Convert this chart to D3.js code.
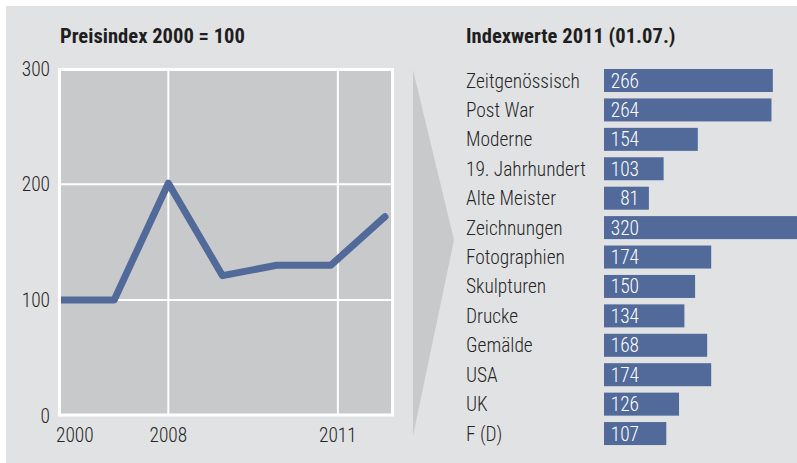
<!DOCTYPE html>
<html><head><meta charset="utf-8">
<script src="https://cdn.jsdelivr.net/npm/d3@7"></script>
<style>
html,body{margin:0;padding:0;background:#fff;}
svg text{font-family:"Roboto Condensed",Roboto,"DejaVu Sans Condensed",sans-serif;fill:#262626;font-weight:300;}
svg text.b{font-weight:700;fill:#1e1e1e;}
</style></head>
<body><svg id="c" width="797" height="463"></svg>
<script>
// ---- data ----
const lineTitle = "Preisindex 2000 = 100";
const lineValues = [100, 100, 201, 121, 130, 130, 172];
const yTicks = [0, 100, 200, 300];
const xTickPos = [0, 2, 5.13];
const xTickLabels = ["2000", "2008", "2011"];

const barTitle = "Indexwerte 2011 (01.07.)";
const categories = ["Zeitgenössisch","Post War","Moderne","19. Jahrhundert","Alte Meister","Zeichnungen","Fotographien","Skulpturen","Drucke","Gemälde","USA","UK","F (D)"];
const barValues = [266, 264, 154, 103, 81, 320, 174, 150, 134, 168, 174, 126, 107];

// ---- layout ----
const svg = d3.select("#c");
const blue = "#516a9a";
const panelCol = "#e1e2e4";
const plotCol = "#c8c9cb";
const FS = 20;

// calibrate horizontal condensing to match the reference's condensed face
function measure(str, cls) {
  const t = svg.append("text").attr("class", cls || null).attr("font-size", FS).text(str);
  const w = t.node().getComputedTextLength();
  t.remove();
  return w;
}
const sxR = 114 / measure("Zeitgenössisch");
const sxB = 185 / measure(lineTitle, "b");

function tr(x, y, sx) { return `translate(${x},${y}) scale(${sx},1)`; }

svg.append("rect").attr("x",6).attr("y",6).attr("width",791).attr("height",457).attr("fill",panelCol);

// line chart
const px0 = 59.5, px1 = 392.5, py0 = 69.5, py1 = 415;
const x = d3.scaleLinear().domain([0, lineValues.length - 1]).range([60, 385]);
const y = d3.scaleLinear().domain([0, 300]).range([415.5, 68.8]);

svg.append("rect").attr("x",px0).attr("y",py0).attr("width",px1-px0).attr("height",py1-py0).attr("fill",plotCol);

svg.append("clipPath").attr("id","clip").append("rect")
  .attr("x",px0).attr("y",py0).attr("width",px1-px0).attr("height",py1-py0);

const g = svg.append("g");
g.selectAll("line.h").data(yTicks.filter(d => d > 0 && d < 300)).join("line")
  .attr("x1",px0).attr("x2",px1).attr("y1",d=>y(d)).attr("y2",d=>y(d))
  .attr("stroke","#fff").attr("stroke-width",2);
g.selectAll("line.v").data(xTickPos.filter(d => d > 0)).join("line")
  .attr("y1",py0).attr("y2",py1).attr("x1",d=>x(d)).attr("x2",d=>x(d))
  .attr("stroke","#fff").attr("stroke-width",2);

g.append("path").datum(lineValues)
  .attr("clip-path","url(#clip)")
  .attr("d", d3.line().x((d,i)=>x(i)).y(d=>y(d)))
  .attr("fill","none").attr("stroke",blue).attr("stroke-width",7)
  .attr("stroke-linejoin","round").attr("stroke-linecap","round");

svg.append("rect").attr("x",px0).attr("y",py0).attr("width",px1-px0).attr("height",py1-py0)
  .attr("fill","none").attr("stroke","#fff").attr("stroke-width",3);

svg.selectAll("text.yt").data(yTicks).join("text").attr("class","yt")
  .attr("transform",d=>tr(50, y(d), sxR)).attr("dy","0.35em")
  .attr("text-anchor","end").attr("font-size",FS).text(d=>d);

svg.selectAll("text.xt").data(xTickPos).join("text").attr("class","xt")
  .attr("transform",(d,i)=>tr(i===0 ? x(d)-4 : x(d), 442, sxR))
  .attr("text-anchor",(d,i)=> i===0 ? "start" : "middle")
  .attr("font-size",FS).text((d,i)=>xTickLabels[i]);

svg.append("text").attr("class","b").attr("transform",tr(60,43,sxB)).attr("font-size",FS)
  .text(lineTitle);

// arrow triangle
svg.append("path")
  .attr("d", d3.line()([[413,70],[454,240],[413,436]]) + "Z")
  .attr("fill",plotCol);

// bar chart
svg.append("text").attr("class","b").attr("transform",tr(466,43,sxB)).attr("font-size",FS)
  .text(barTitle);

const yb = d3.scaleBand().domain(categories).range([65.8, 65.8 + 13*29.42])
  .paddingInner(0.218).paddingOuter(0.109);
const xb = d3.scaleLinear().domain([14, 320]).range([0, 205]);
const bx = 604;

svg.selectAll("text.lab").data(categories).join("text").attr("class","lab")
  .attr("transform",d=>tr(466, yb(d)+yb.bandwidth()/2, sxR)).attr("dy","0.35em")
  .attr("font-size",FS).text(d=>d);

svg.selectAll("rect.bar").data(barValues).join("rect").attr("class","bar")
  .attr("x",bx).attr("y",(d,i)=>yb(categories[i]))
  .attr("width",d=>xb(d)).attr("height",yb.bandwidth()).attr("fill",blue);

svg.selectAll("text.val").data(barValues).join("text").attr("class","val")
  .attr("transform",(d,i)=>tr(639, yb(categories[i])+yb.bandwidth()/2, sxR)).attr("dy","0.35em")
  .attr("text-anchor","end").attr("font-size",FS).style("fill","#fff").text(d=>d);
</script></body></html>
